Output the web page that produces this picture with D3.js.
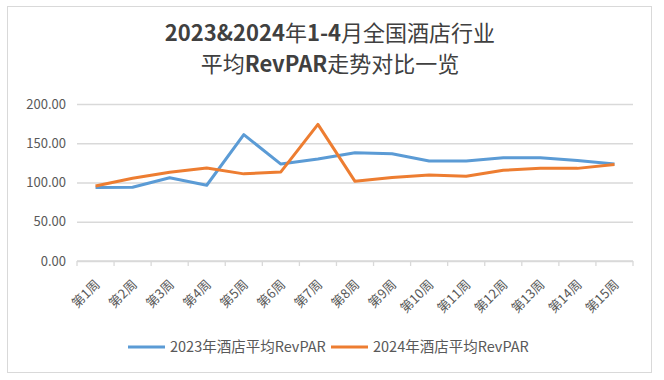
<!DOCTYPE html>
<html>
<head>
<meta charset="utf-8">
<script src="https://cdn.jsdelivr.net/npm/d3@7"></script>
<style>
  body { margin: 0; background: #fff; }
  svg text { font-family: "Noto Sans CJK SC", "Noto Sans", sans-serif; }
</style>
</head>
<body>
<div class="chart"></div>
<script>
var weeks = ["第1周","第2周","第3周","第4周","第5周","第6周","第7周","第8周","第9周","第10周","第11周","第12周","第13周","第14周","第15周"];
var rev2023 = [93.5, 94, 106, 96.5, 161, 123.5, 130, 138, 136.5, 127.5, 127.5, 131.5, 131.5, 128, 123.5];
var rev2024 = [95.5, 105.5, 113, 118.5, 111, 113.5, 174, 101.5, 106.5, 109.5, 108, 115.5, 118, 118, 123];
var yTicks = [0, 50, 100, 150, 200];
var seriesNames = ["2023年酒店平均RevPAR", "2024年酒店平均RevPAR"];
var titleLines = ["2023&2024年1-4月全国酒店行业", "平均RevPAR走势对比一览"];

var W = 664, H = 380;
var margin = {top: 104, right: 30, bottom: 119, left: 77};
var width = 633 - margin.left;
var height = 261 - margin.top;
var colors = ["#5B9BD5", "#ED7D31"];

var svg = d3.select(".chart").append("svg")
  .attr("width", W).attr("height", H);

// frame
svg.append("rect")
  .attr("x", 7.5).attr("y", 6.5)
  .attr("width", 644).attr("height", 366)
  .attr("fill", "#fff").attr("stroke", "#d9d9d9").attr("stroke-width", 1);

// title: latin runs bold, CJK regular
titleLines.forEach((line, i) => {
  var t = svg.append("text")
    .attr("x", 330).attr("y", 41 + i * 31)
    .attr("text-anchor", "middle")
    .style("font-size", "22px")
    .attr("fill", "#404040");
  var parts = line.match(/[\x00-\x7F]+|[^\x00-\x7F]+/g);
  parts.forEach((p) => {
    t.append("tspan")
      .style("font-weight", /[\x00-\x7F]/.test(p) ? "bold" : "normal")
      .text(p);
  });
});

var g = svg.append("g")
  .attr("transform", "translate(" + margin.left + "," + margin.top + ")");

var x = d3.scaleBand().domain(weeks).range([0, width]).padding(0);
var y = d3.scaleLinear().domain([0, 200]).range([height, 0]);

// y axis + gridlines
var yAxis = g.append("g")
  .call(d3.axisLeft(y).tickValues(yTicks).tickFormat(d3.format(".2f")).tickSize(-width).tickPadding(11));
yAxis.select(".domain").remove();
yAxis.selectAll("line").attr("stroke", "#d9d9d9").attr("stroke-width", 1.3);
yAxis.selectAll("text").attr("fill", "#595959").style("font-size", "13px");

// x axis line + boundary ticks
var xg = g.append("g").attr("transform", "translate(0," + height + ")");
xg.append("line").attr("x1", 0).attr("x2", width).attr("stroke", "#d9d9d9").attr("stroke-width", 1.3);
xg.selectAll(".tk")
  .data(weeks.concat(["end"]))
  .enter().append("line")
    .attr("class", "tk")
    .attr("x1", (d, i) => i < weeks.length ? x(d) : width)
    .attr("x2", (d, i) => i < weeks.length ? x(d) : width)
    .attr("y1", 0).attr("y2", 5)
    .attr("stroke", "#d9d9d9").attr("stroke-width", 1.3);
xg.selectAll(".lbl")
  .data(weeks)
  .enter().append("text")
    .attr("class", "lbl")
    .attr("transform", (d) => "translate(" + (x(d) + x.bandwidth() / 2 + 2) + ",21) rotate(-45)")
    .attr("text-anchor", "end")
    .attr("dy", "0.35em")
    .attr("fill", "#595959")
    .style("font-size", "13px")
    .text((d) => d);

// lines
var line = d3.line()
  .x((d, i) => x(weeks[i]) + x.bandwidth() / 2)
  .y((d) => y(d));

[rev2023, rev2024].forEach((s, i) => {
  g.append("path")
    .datum(s)
    .attr("fill", "none")
    .attr("stroke", colors[i])
    .attr("stroke-width", 3)
    .attr("stroke-linejoin", "round")
    .attr("d", line);
});

// legend
var legX = [128, 331];
seriesNames.forEach((n, i) => {
  var lg = svg.append("g").attr("transform", "translate(" + legX[i] + ",347)");
  lg.append("line").attr("x1", 0).attr("x2", 37)
    .attr("stroke", colors[i]).attr("stroke-width", 3);
  lg.append("text").attr("x", 42).attr("dy", "0.35em")
    .attr("fill", "#595959").style("font-size", "14.5px")
    .text(n);
});
</script>
</body>
</html>
